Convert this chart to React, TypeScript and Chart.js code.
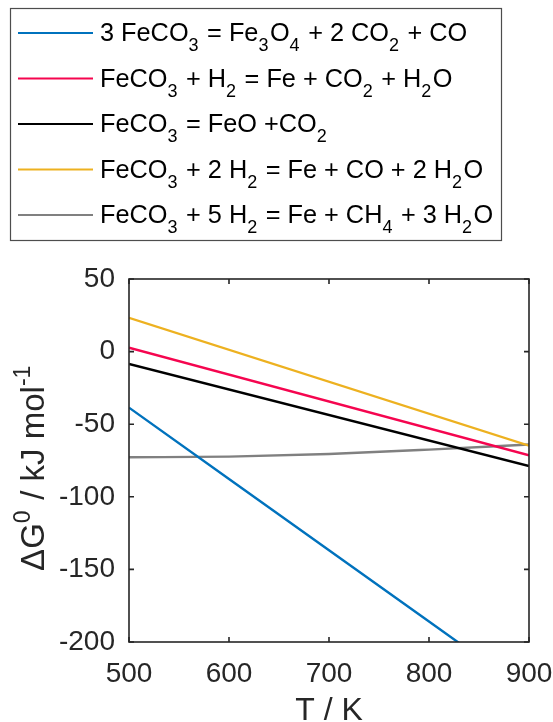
import React, { useEffect, useRef } from "react";
import { Chart, registerables } from "chart.js";

Chart.register(...registerables);

// ---- data ----
const tempTicks = [500, 600, 700, 800, 900];
const gTicks = [-200, -150, -100, -50, 0, 50];

const blueT = [500, 600, 700, 800, 900];
const blueG = [-38.6, -87.7, -136.8, -185.9, -235];

const redT = [500, 900];
const redG = [2.7, -71.4];

const blackT = [500, 900];
const blackG = [-8.5, -78.8];

const yellowT = [500, 900];
const yellowG = [23.3, -64.8];

const grayT = [500, 600, 700, 800, 900];
const grayG = [-72.8, -72.3, -70.5, -67.5, -64.0];

// legend labels: "_x" = subscript char
const labels = [
  "3 FeCO_3 = Fe_3O_4 + 2 CO_2 + CO",
  "FeCO_3 + H_2 = Fe + CO_2 + H_2O",
  "FeCO_3 = FeO +CO_2",
  "FeCO_3 + 2 H_2 = Fe + CO + 2 H_2O",
  "FeCO_3 + 5 H_2 = Fe + CH_4 + 3 H_2O",
];
const colors = ["#0072BD", "#F5054F", "#000000", "#EDB120", "#808080"];

const xTitle = "T / K";
const yTitleParts = [
  { t: "\u0394G", s: 0 },
  { t: "0", s: 1 },
  { t: " / kJ mol", s: 0 },
  { t: "-1", s: 1 },
];

const FONT = "'Liberation Sans', Arial, Helvetica, sans-serif";

function parseRich(str: string) {
  const parts: { t: string; s: number }[] = [];
  let cur = "";
  for (let i = 0; i < str.length; i++) {
    if (str[i] === "_" && i + 1 < str.length) {
      if (cur) parts.push({ t: cur, s: 0 });
      cur = "";
      parts.push({ t: str[i + 1], s: -1 });
      i++;
    } else cur += str[i];
  }
  if (cur) parts.push({ t: cur, s: 0 });
  return parts;
}

function drawRich(ctx: CanvasRenderingContext2D, parts: { t: string; s: number }[], x: number, y: number, main: number, small: number, shift: number) {
  let cx = x;
  for (const p of parts) {
    ctx.font = `${p.s === 0 ? main : small}px ${FONT}`;
    const dy = p.s === -1 ? shift : p.s === 1 ? -shift : 0;
    ctx.fillText(p.t, cx, y + dy);
    cx += ctx.measureText(p.t).width + (p.s !== 0 ? 1.5 : 0);
  }
  return cx - x;
}

function measureRich(ctx: CanvasRenderingContext2D, parts: { t: string; s: number }[], main: number, small: number) {
  let w = 0;
  for (const p of parts) {
    ctx.font = `${p.s === 0 ? main : small}px ${FONT}`;
    w += ctx.measureText(p.t).width + (p.s !== 0 ? 1.5 : 0);
  }
  return w;
}

const decorPlugin = {
  id: "decor",
  afterDatasetsDraw(chart: any) {
    const { ctx, chartArea: a, scales } = chart;
    ctx.save();
    ctx.strokeStyle = "#262626";
    ctx.lineWidth = 1.6;
    ctx.strokeRect(a.left, a.top, a.right - a.left, a.bottom - a.top);
    const tl = 5;
    ctx.beginPath();
    for (const v of tempTicks) {
      const px = scales.x.getPixelForValue(v);
      ctx.moveTo(px, a.bottom);
      ctx.lineTo(px, a.bottom - tl);
      ctx.moveTo(px, a.top);
      ctx.lineTo(px, a.top + tl);
    }
    for (const v of gTicks) {
      const py = scales.y.getPixelForValue(v);
      ctx.moveTo(a.left, py);
      ctx.lineTo(a.left + tl, py);
      ctx.moveTo(a.right, py);
      ctx.lineTo(a.right - tl, py);
    }
    ctx.stroke();
    ctx.restore();
  },
  afterDraw(chart: any) {
    const { ctx, chartArea: a } = chart;
    ctx.save();
    // legend box
    ctx.fillStyle = "#ffffff";
    ctx.strokeStyle = "#4d4d4d";
    ctx.lineWidth = 1.2;
    ctx.fillRect(10, 8, 491, 232);
    ctx.strokeRect(10.5, 8.5, 491, 232);
    ctx.textBaseline = "alphabetic";
    ctx.textAlign = "left";
    labels.forEach((lab, i) => {
      const base = 41 + i * 45.5;
      ctx.strokeStyle = colors[i];
      ctx.lineWidth = 2.2;
      ctx.beginPath();
      ctx.moveTo(18, base - 8);
      ctx.lineTo(93, base - 8);
      ctx.stroke();
      ctx.fillStyle = "#000000";
      drawRich(ctx, parseRich(lab), 100, base, 25.3, 18, 10);
    });

    // x title
    ctx.fillStyle = "#262626";
    ctx.font = `32px ${FONT}`;
    ctx.textAlign = "center";
    ctx.fillText(xTitle, (a.left + a.right) / 2, 720);

    // y title (rotated)
    ctx.textAlign = "left";
    const w = measureRich(ctx, yTitleParts, 33, 23);
    ctx.translate(44, (a.top + a.bottom) / 2 + 7);
    ctx.rotate(-Math.PI / 2);
    drawRich(ctx, yTitleParts, -w / 2, 0, 33, 23, 14);
    ctx.restore();
  },
};

export default function App() {
  const ref = useRef<HTMLCanvasElement | null>(null);
  useEffect(() => {
    if (!ref.current) return;
    const mk = (t: number[], g: number[]) => t.map((x, i) => ({ x, y: g[i] }));
    const series = [
      mk(blueT, blueG),
      mk(redT, redG),
      mk(blackT, blackG),
      mk(yellowT, yellowG),
      mk(grayT, grayG),
    ];
    const chart = new Chart(ref.current, {
      type: "line",
      data: {
        datasets: series.map((d, i) => ({
          label: labels[i],
          data: d,
          borderColor: colors[i],
          backgroundColor: colors[i],
          borderWidth: 2.4,
          pointRadius: 0,
          tension: i === 4 ? 0.4 : 0,
          cubicInterpolationMode: i === 4 ? "monotone" : "default",
          fill: false,
        })),
      },
      options: {
        animation: false,
        responsive: false,
        devicePixelRatio: 1,
        layout: { padding: { left: 0, top: 279, right: 24, bottom: 0 } },
        plugins: {
          legend: { display: false },
          tooltip: { enabled: false },
          title: { display: false },
        },
        scales: {
          x: {
            type: "linear",
            min: 500,
            max: 900,
            grid: { display: false, drawTicks: false },
            border: { display: false },
            afterFit: (s: any) => {
              s.height = 80;
              s.paddingLeft = 0;
              s.paddingRight = 0;
            },
            afterBuildTicks: (s: any) => {
              s.ticks = tempTicks.map((v) => ({ value: v }));
            },
            ticks: {
              color: "#262626",
              font: { family: FONT, size: 28 },
              padding: 15,
              maxRotation: 0,
            },
          },
          y: {
            type: "linear",
            min: -200,
            max: 50,
            grid: { display: false, drawTicks: false },
            border: { display: false },
            afterFit: (s: any) => {
              s.width = 129;
              s.paddingTop = 0;
              s.paddingBottom = 0;
            },
            afterBuildTicks: (s: any) => {
              s.ticks = gTicks.map((v) => ({ value: v }));
            },
            ticks: {
              color: "#262626",
              font: { family: FONT, size: 28 },
              padding: 14,
            },
          },
        },
      },
      plugins: [decorPlugin],
    } as any);
    return () => chart.destroy();
  }, []);
  return (
    <div style={{ position: "fixed", left: 0, top: 0, width: 553, height: 722, background: "#fff" }}>
      <canvas ref={ref} width={553} height={722} style={{ width: 553, height: 722, display: "block" }} />
    </div>
  );
}
